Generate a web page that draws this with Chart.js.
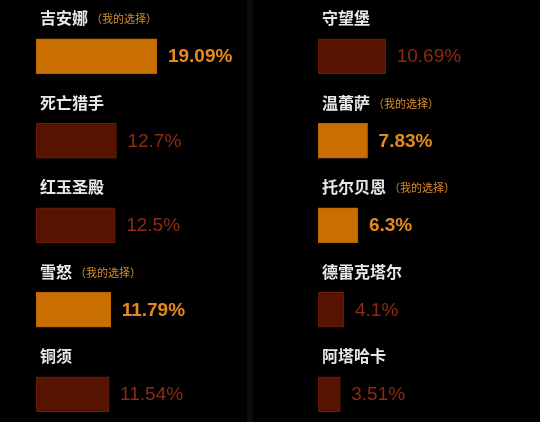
<!DOCTYPE html>
<html><head><meta charset="utf-8">
<script src="https://cdn.jsdelivr.net/npm/chart.js@4"></script>
<style>
html,body{margin:0;padding:0;background:#000;width:540px;height:422px;overflow:hidden;}
#wrap{position:relative;width:540px;height:422px;}
canvas{position:absolute;left:0;top:0;}
#div{position:absolute;left:247px;top:0;width:6px;height:422px;background:#0d0d0d;}
</style></head>
<body><div id="wrap"><div id="div"></div>
<canvas id="c1" width="540" height="440"></canvas>
<canvas id="c2" width="540" height="440"></canvas></div>
<script>
const leftNames = ['吉安娜','死亡猎手','红玉圣殿','雪怒','铜须'];
const leftValues = [19.09, 12.7, 12.5, 11.79, 11.54];
const leftMine = [true, false, false, true, false];
const rightNames = ['守望堡','温蕾萨','托尔贝恩','德雷克塔尔','阿塔哈卡'];
const rightValues = [10.69, 7.83, 6.3, 4.1, 3.51];
const rightMine = [false, true, true, false, false];
const mineTag = '（我的选择）';

const ORANGE = '#c96e00', ORANGE_B = '#b86200';
const DARK = '#561400', DARK_B = '#6a1e08';

const labelPlugin = {
  id: 'labels',
  afterDatasetsDraw(chart) {
    const ctx = chart.ctx;
    const meta = chart.getDatasetMeta(0);
    const names = chart.data.labels;
    const mine = chart.options.plugins.labels.mine;
    const vals = chart.data.datasets[0].data;
    ctx.save();
    meta.data.forEach((bar, i) => {
      const x0 = bar.base, yc = bar.y;
      ctx.textBaseline = 'middle';
      ctx.textAlign = 'left';
      ctx.font = 'bold 16px "Noto Sans CJK SC", sans-serif';
      ctx.fillStyle = '#e8e8e8';
      const nx = x0 + 4, ny = yc - 38;
      ctx.fillText(names[i], nx, ny);
      if (mine[i]) {
        const w = ctx.measureText(names[i]).width;
        ctx.font = '11px "Noto Sans CJK SC", sans-serif';
        ctx.fillStyle = '#d98a2a';
        ctx.fillText(mineTag, nx + w + 3, ny + 1);
      }
      ctx.font = (mine[i] ? 'bold ' : '') + '19px "Liberation Sans", Arial, sans-serif';
      ctx.fillStyle = mine[i] ? '#e8891e' : '#8e2a10';
      ctx.fillText(vals[i] + '%', bar.x + 11, yc + 1);
    });
    ctx.restore();
  }
};

function make(id, names, values, mine, padLeft) {
  return new Chart(document.getElementById(id), {
    type: 'bar',
    data: {
      labels: names,
      datasets: [{
        data: values,
        backgroundColor: mine.map(m => m ? ORANGE : DARK),
        borderColor: mine.map(m => m ? ORANGE_B : DARK_B),
        borderWidth: 1,
        borderSkipped: false,
        barThickness: 35
      }]
    },
    options: {
      indexAxis: 'y',
      responsive: false,
      animation: false,
      events: [],
      layout: { padding: { left: padLeft, right: 540 - padLeft - 190, top: 14, bottom: 3.5 } },
      scales: {
        x: { display: false, min: 0, max: 30 },
        y: { display: false, offset: true }
      },
      plugins: { legend: { display: false }, tooltip: { enabled: false }, labels: { mine: mine } }
    },
    plugins: [labelPlugin]
  });
}
make('c1', leftNames, leftValues, leftMine, 36);
make('c2', rightNames, rightValues, rightMine, 318);
</script></body></html>
